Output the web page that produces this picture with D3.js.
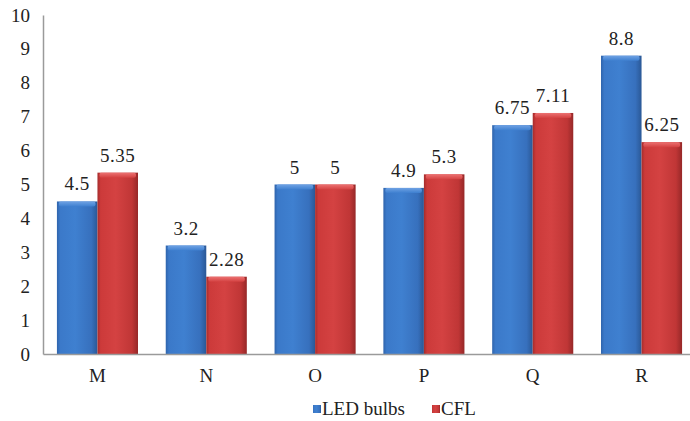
<!DOCTYPE html>
<html><head><meta charset="utf-8">
<script src="https://cdn.jsdelivr.net/npm/d3@7"></script>
<style>body{margin:0;background:#fff}svg{display:block}</style>
</head><body><svg id="c" width="690" height="421"></svg>
<script>
const categories = ["M","N","O","P","Q","R"];
const seriesNames = ["LED bulbs","CFL"];
const ledValues = [4.5, 3.2, 5, 4.9, 6.75, 8.8];
const cflValues = [5.35, 2.28, 5, 5.3, 7.11, 6.25];
const yTicks = [0,1,2,3,4,5,6,7,8,9,10];

const FONT = "'Liberation Serif', 'Times New Roman', Times, serif";
const FS = 19;
const svg = d3.select("#c").attr("font-family", FONT);
const x0 = 43, x1 = 696, yTop = 15, yBot = 354;
const x = d3.scaleBand().domain(categories).range([x0, x1]).paddingInner(0.255).paddingOuter(0.128);
const xs = d3.scaleBand().domain(seriesNames).range([0, x.bandwidth()]);
const y = d3.scaleLinear().domain([0,10]).range([yBot, yTop]);

const defs = svg.append("defs");
function grad(id, stops, vertical){
  const g = defs.append("linearGradient").attr("id", id)
    .attr("x1",0).attr("y1",0).attr("x2", vertical?0:1).attr("y2", vertical?1:0);
  stops.forEach(s => g.append("stop").attr("offset", s[0]).attr("stop-color", s[1]));
}
grad("gBlue", [[0,"#2f64ac"],[0.08,"#3b79c9"],[0.45,"#3f80d0"],[0.85,"#3770bd"],[1,"#2a5896"]]);
grad("gRed", [[0,"#a52c2c"],[0.08,"#cc3a3a"],[0.45,"#d44242"],[0.85,"#c03636"],[1,"#962828"]]);
grad("gBlueTop", [[0,"#6fa2e4"],[1,"#3f80d0"]], true);
grad("gRedTop", [[0,"#ec7272"],[1,"#d44242"]], true);
const fills = {"LED bulbs":["url(#gBlue)","url(#gBlueTop)"], "CFL":["url(#gRed)","url(#gRedTop)"]};

const rows = categories.map((c,i) => ({c, vals:[{s:"LED bulbs", v:ledValues[i]},{s:"CFL", v:cflValues[i]}]}));

// y axis
const yAxis = d3.axisLeft(y).tickValues(yTicks).tickSize(0).tickPadding(13);
const gy = svg.append("g").attr("transform",`translate(${x0},0)`).call(yAxis).attr("font-family", FONT);
gy.select(".domain").attr("stroke","#9a9a9a").attr("stroke-width",1.5);
gy.selectAll("text").attr("font-size",FS).attr("fill","#222");

// bars
const groups = svg.append("g").selectAll("g").data(rows).join("g")
  .attr("transform", d => `translate(${x(d.c)},0)`);
const bars = groups.selectAll("g").data(d => d.vals).join("g");
bars.append("rect")
  .attr("x", d => xs(d.s)).attr("width", xs.bandwidth())
  .attr("y", d => y(d.v)).attr("height", d => yBot - y(d.v))
  .attr("fill", d => fills[d.s][0]);
bars.append("rect")
  .attr("x", d => xs(d.s)+2).attr("width", xs.bandwidth()-4)
  .attr("y", d => y(d.v)).attr("height", 5).attr("rx",2)
  .attr("fill", d => fills[d.s][1]);
bars.append("text")
  .attr("x", d => xs(d.s) + xs.bandwidth()/2)
  .attr("y", d => y(d.v) - 11)
  .attr("text-anchor","middle").attr("font-size",FS).attr("letter-spacing",0.5).attr("fill","#222")
  .text(d => d.v);

// x axis
const xAxis = d3.axisBottom(x).tickSize(0).tickPadding(15);
const gx = svg.append("g").attr("transform",`translate(0,${yBot})`).call(xAxis).attr("font-family", FONT);
gx.select(".domain").attr("stroke","#9a9a9a").attr("stroke-width",1.5);
gx.selectAll("text").attr("font-size",FS).attr("fill","#222");

// legend
const legend = svg.append("g");
const legendItems = [{s:"LED bulbs", x:313, color:"url(#gBlue)"},{s:"CFL", x:432, color:"url(#gRed)"}];
const li = legend.selectAll("g").data(legendItems).join("g").attr("transform", d => `translate(${d.x},405)`);
li.append("rect").attr("width",8).attr("height",8).attr("fill", d => d.color);
li.append("text").attr("x",9).attr("y",10).attr("font-size",FS).attr("fill","#222").text(d => d.s);
</script></body></html>
